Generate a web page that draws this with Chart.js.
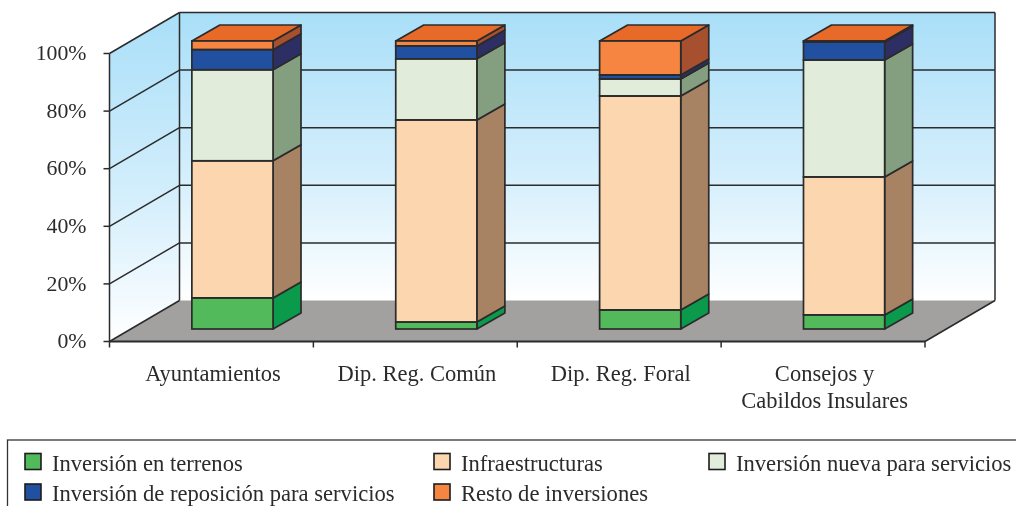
<!DOCTYPE html>
<html><head><meta charset="utf-8">
<script src="https://cdn.jsdelivr.net/npm/chart.js@4"></script>
<style>html,body{margin:0;padding:0;background:#fff;overflow:hidden}canvas{display:block}</style>
</head><body><canvas id="c" width="1016" height="506"></canvas>
<script>
const categories = ["Ayuntamientos","Dip. Reg. Común","Dip. Reg. Foral",["Consejos y","Cabildos Insulares"]];
const seriesNames = ["Inversión en terrenos","Infraestructuras","Inversión nueva para servicios","Inversión de reposición para servicios","Resto de inversiones"];
const terrenos = [10.8, 2.4, 6.6, 4.9];
const infraestructuras = [47.6, 70.2, 74.3, 47.9];
const nueva = [31.6, 21.2, 5.9, 40.6];
const reposicion = [7.0, 4.5, 1.4, 6.2];
const resto = [3.0, 1.7, 11.8, 0.4];
const frontColors = ["#52BA5A","#FBD6AE","#E1ECDA","#2150A0","#F58540"];
const sideColors = ["#0B9A4C","#A78263","#849E80","#2D2F64","#A65030"];
const topColor = "#E86A28";
const INK = "#2b2b2b", SERIF = '"Liberation Serif","Times New Roman",serif';
const WALL = {dx:70, dy:-41}, BAR = {dx:21, dy:-12.5}, DEPTH = {dx:28, dy:-16};

function poly(ctx, pts, fill, lw){
  ctx.beginPath(); pts.forEach((p,i)=> i?ctx.lineTo(p[0],p[1]):ctx.moveTo(p[0],p[1])); ctx.closePath();
  if(fill){ctx.fillStyle=fill;ctx.fill();}
  if(lw){ctx.lineWidth=lw;ctx.strokeStyle=INK;ctx.lineJoin="round";ctx.stroke();}
}
function line(ctx,x1,y1,x2,y2,lw){ctx.beginPath();ctx.moveTo(x1,y1);ctx.lineTo(x2,y2);ctx.lineWidth=lw||1.5;ctx.strokeStyle=INK;ctx.stroke();}

const frame3d = {
  id:"frame3d",
  beforeDatasetsDraw(chart){
    const ctx=chart.ctx, a=chart.chartArea, ys=chart.scales.y;
    const L=a.left,R=a.right,T=ys.getPixelForValue(100),B=ys.getPixelForValue(0);
    const dx=WALL.dx,dy=WALL.dy;
    ctx.save();
    let g=ctx.createLinearGradient(0,T+dy,0,B+dy);
    g.addColorStop(0,"#A9DFF8");g.addColorStop(.55,"#D3EEFC");g.addColorStop(1,"#FFFFFF");
    poly(ctx,[[L+dx,T+dy],[R+dx,T+dy],[R+dx,B+dy],[L+dx,B+dy]],g);
    g=ctx.createLinearGradient(0,T+dy,0,B);
    g.addColorStop(0,"#A9DFF8");g.addColorStop(.55,"#D3EEFC");g.addColorStop(1,"#FFFFFF");
    poly(ctx,[[L,T],[L+dx,T+dy],[L+dx,B+dy],[L,B]],g);
    poly(ctx,[[L,B],[L+dx,B+dy],[R+dx,B+dy],[R,B]],"#A3A1A0");
    ys.ticks.forEach(t=>{
      const y=ys.getPixelForValue(t.value);
      if(t.value>0) line(ctx,L+dx,y+dy,R+dx,y+dy);
      line(ctx,L,y,L+dx,y+dy);
      line(ctx,L-6,y,L,y);
    });
    line(ctx,L,T,L,B); line(ctx,L+dx,T+dy,L+dx,B+dy);
    line(ctx,R+dx,T+dy,R+dx,B+dy);
    line(ctx,R,B,R+dx,B+dy);
    line(ctx,L,B,R,B,1.8);
    const n=categories.length;
    for(let i=0;i<=n;i++){const x=L+(R-L)*i/n; line(ctx,x,B,x,B+6);}
    ctx.translate(BAR.dx,BAR.dy);
    chart.data.datasets.forEach((ds,d)=>{
      chart.getDatasetMeta(d).data.forEach((el,i)=>{
        const x=el.x+el.width/2, y0=el.base, y1=el.y, ox=DEPTH.dx, oy=DEPTH.dy;
        poly(ctx,[[x,y0],[x+ox,y0+oy],[x+ox,y1+oy],[x,y1]],sideColors[d],1.7);
        if(d===chart.data.datasets.length-1){
          const xl=el.x-el.width/2;
          poly(ctx,[[xl,y1],[xl+ox,y1+oy],[x+ox,y1+oy],[x,y1]],topColor,1.7);
        }
      });
    });
    ctx.restore();
    ctx.save();
    ctx.translate(BAR.dx,BAR.dy);
  },
  afterDatasetsDraw(chart){
    const ctx=chart.ctx;
    chart.data.datasets.forEach((ds,d)=>{
      chart.getDatasetMeta(d).data.forEach(el=>{
        ctx.lineWidth=1.7; ctx.strokeStyle=INK;
        ctx.strokeRect(el.x-el.width/2,el.y,el.width,el.base-el.y);
      });
    });
    ctx.restore();
    ctx.save();
    ctx.lineWidth=1.3; ctx.strokeStyle="#333";
    ctx.strokeRect(7.5,440,1020,80);
    const cols=[25,434,709], rows=[453.5,484], textX=[52,461,736];
    const where=[[0,0],[1,0],[2,0],[0,1],[1,1]];
    ctx.font="22.6px "+SERIF; ctx.textBaseline="alphabetic"; ctx.textAlign="left";
    seriesNames.forEach((s,i)=>{
      const c=where[i][0], x=cols[c], y=rows[where[i][1]];
      ctx.fillStyle=frontColors[i]; ctx.fillRect(x,y,16,16);
      ctx.lineWidth=1.6; ctx.strokeStyle="#1c1c1c"; ctx.strokeRect(x,y,16,16);
      ctx.fillStyle="#2b2b2b"; ctx.fillText(s,textX[c],y+17);
    });
    ctx.restore();
  }
};

const dataArrays=[terrenos,infraestructuras,nueva,reposicion,resto];
new Chart(document.getElementById("c"),{
  type:"bar",
  data:{labels:categories,datasets:seriesNames.map((n,i)=>({
    label:n,data:dataArrays[i],backgroundColor:frontColors[i],borderWidth:0,
    borderSkipped:false,clip:false,barPercentage:.398,categoryPercentage:1
  }))},
  plugins:[frame3d],
  options:{
    responsive:false,animation:false,devicePixelRatio:1,
    layout:{padding:{top:53.5,right:91,left:0,bottom:0}},
    plugins:{legend:{display:false},tooltip:{enabled:false},title:{display:false}},
    scales:{
      x:{stacked:true,grid:{display:false,drawTicks:false},border:{display:false},
        afterFit(s){s.height=164.5;},
        ticks:{color:"#2b2b2b",padding:20,labelOffset:1.5,maxRotation:0,autoSkip:false,font:{family:SERIF,size:22.5,lineHeight:1.2}}},
      y:{stacked:true,min:0,max:100,grid:{display:false,drawTicks:false},border:{display:false},
        afterFit(s){s.width=109.5;},
        ticks:{stepSize:20,color:"#2b2b2b",padding:23,labelOffset:1,font:{family:SERIF,size:21.8},callback:v=>v+"%"}}
    }
  }
});
</script></body></html>
